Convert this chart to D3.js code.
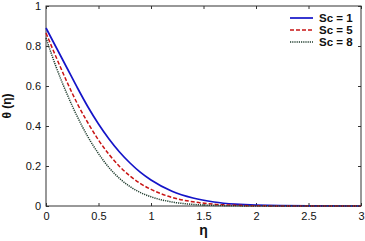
<!DOCTYPE html>
<html>
<head>
<meta charset="utf-8">
<script src="https://cdn.jsdelivr.net/npm/d3@7"></script>
<style>
  body { margin: 0; background: #fff; }
  svg { display: block; font-family: "Liberation Sans", Arial, sans-serif; }
  .tick text { font-size: 11px; fill: #111; }
</style>
</head>
<body>
<svg width="365" height="241"></svg>
<script>
var svg = d3.select("svg"),
    width = +svg.attr("width"),
    height = +svg.attr("height");

// eta values shared by the three curves
var eta = [0, 0.1, 0.2, 0.3, 0.4, 0.5, 0.6, 0.7, 0.8, 0.9, 1.0, 1.2, 1.4, 1.6, 1.8, 2.0, 2.5, 3.0];
var sc1 = [0.89, 0.79, 0.69, 0.59, 0.495, 0.41, 0.335, 0.27, 0.215, 0.168, 0.13, 0.074, 0.04, 0.02, 0.009, 0.004, 0.0005, 0];
var sc5 = [0.865, 0.74, 0.62, 0.51, 0.415, 0.33, 0.258, 0.198, 0.15, 0.112, 0.083, 0.043, 0.021, 0.009, 0.004, 0.001, 0, 0];
var sc8 = [0.84, 0.69, 0.56, 0.445, 0.345, 0.262, 0.192, 0.138, 0.097, 0.067, 0.046, 0.02, 0.008, 0.003, 0.001, 0, 0, 0];

var seriesNames = ["Sc = 1", "Sc = 5", "Sc = 8"];
var xTicks = [0, 0.5, 1, 1.5, 2, 2.5, 3];
var yTicks = [0, 0.2, 0.4, 0.6, 0.8, 1];

var series = [
    { name: seriesNames[0], values: sc1, color: "#1414c8", dash: null, w: 1.7 },
    { name: seriesNames[1], values: sc5, color: "#c81414", dash: "4,2", w: 1.5 },
    { name: seriesNames[2], values: sc8, color: "#1f3d2e", dash: "1.2,1", w: 1.5 }
];

var margin = { left: 46, right: 4, top: 6, bottom: 35 };
var x = d3.scaleLinear().domain([0, 3]).range([margin.left, width - margin.right]);
var y = d3.scaleLinear().domain([0, 1]).range([height - margin.bottom, margin.top]);

// axes (ticks pointing inward, like matlab)
var gx = svg.append("g")
    .attr("transform", "translate(0," + y(0) + ")")
    .call(d3.axisBottom(x).tickValues(xTicks).tickSize(-3).tickPadding(6).tickFormat(d3.format("")));
var gxTop = svg.append("g")
    .attr("transform", "translate(0," + y(1) + ")")
    .call(d3.axisTop(x).tickValues(xTicks).tickSize(-3).tickFormat(""));
var gy = svg.append("g")
    .attr("transform", "translate(" + x(0) + ",0)")
    .call(d3.axisLeft(y).tickValues(yTicks).tickSize(-3).tickPadding(5).tickFormat(d3.format("")));
var gyRight = svg.append("g")
    .attr("transform", "translate(" + x(3) + ",0)")
    .call(d3.axisRight(y).tickValues(yTicks).tickSize(-3).tickFormat(""));

[gx, gxTop, gy, gyRight].forEach(function(g) {
    g.select(".domain").remove();
    g.selectAll(".tick line").attr("stroke", "#333");
});

svg.append("rect")
    .attr("x", x(0))
    .attr("y", y(1))
    .attr("width", x(3) - x(0))
    .attr("height", y(0) - y(1))
    .attr("fill", "none")
    .attr("stroke", "#333")
    .attr("stroke-width", 1);

var line = d3.line()
    .x(function(d, i) { return x(eta[i]); })
    .y(function(d) { return y(d); })
    .curve(d3.curveMonotoneX);

svg.append("g")
    .selectAll("path")
    .data(series)
    .enter().append("path")
    .attr("d", function(d) { return line(d.values); })
    .attr("fill", "none")
    .attr("stroke", function(d) { return d.color; })
    .attr("stroke-width", function(d) { return d.w; })
    .attr("stroke-dasharray", function(d) { return d.dash; });

// legend
var legend = svg.append("g")
    .selectAll("g")
    .data(series)
    .enter().append("g")
    .attr("transform", function(d, i) { return "translate(290," + (18 + i * 12) + ")"; });

legend.append("line")
    .attr("x1", 0).attr("x2", 23)
    .attr("y1", 0).attr("y2", 0)
    .attr("stroke", function(d) { return d.color; })
    .attr("stroke-width", function(d) { return d.w; })
    .attr("stroke-dasharray", function(d) { return d.dash; });

legend.append("text")
    .attr("x", 29)
    .attr("y", 4)
    .attr("font-size", 11.5)
    .attr("font-weight", "bold")
    .attr("fill", "#111")
    .text(function(d) { return d.name; });

// axis titles
svg.append("text")
    .attr("x", (x(0) + x(3)) / 2)
    .attr("y", 235)
    .attr("text-anchor", "middle")
    .attr("font-size", 14)
    .attr("font-weight", "bold")
    .attr("fill", "#111")
    .text("η");

svg.append("text")
    .attr("transform", "translate(11," + (y(0.5)) + ") rotate(-90)")
    .attr("text-anchor", "middle")
    .attr("font-size", 12)
    .attr("font-weight", "bold")
    .attr("fill", "#111")
    .text("θ (η)");
</script>
</body>
</html>
